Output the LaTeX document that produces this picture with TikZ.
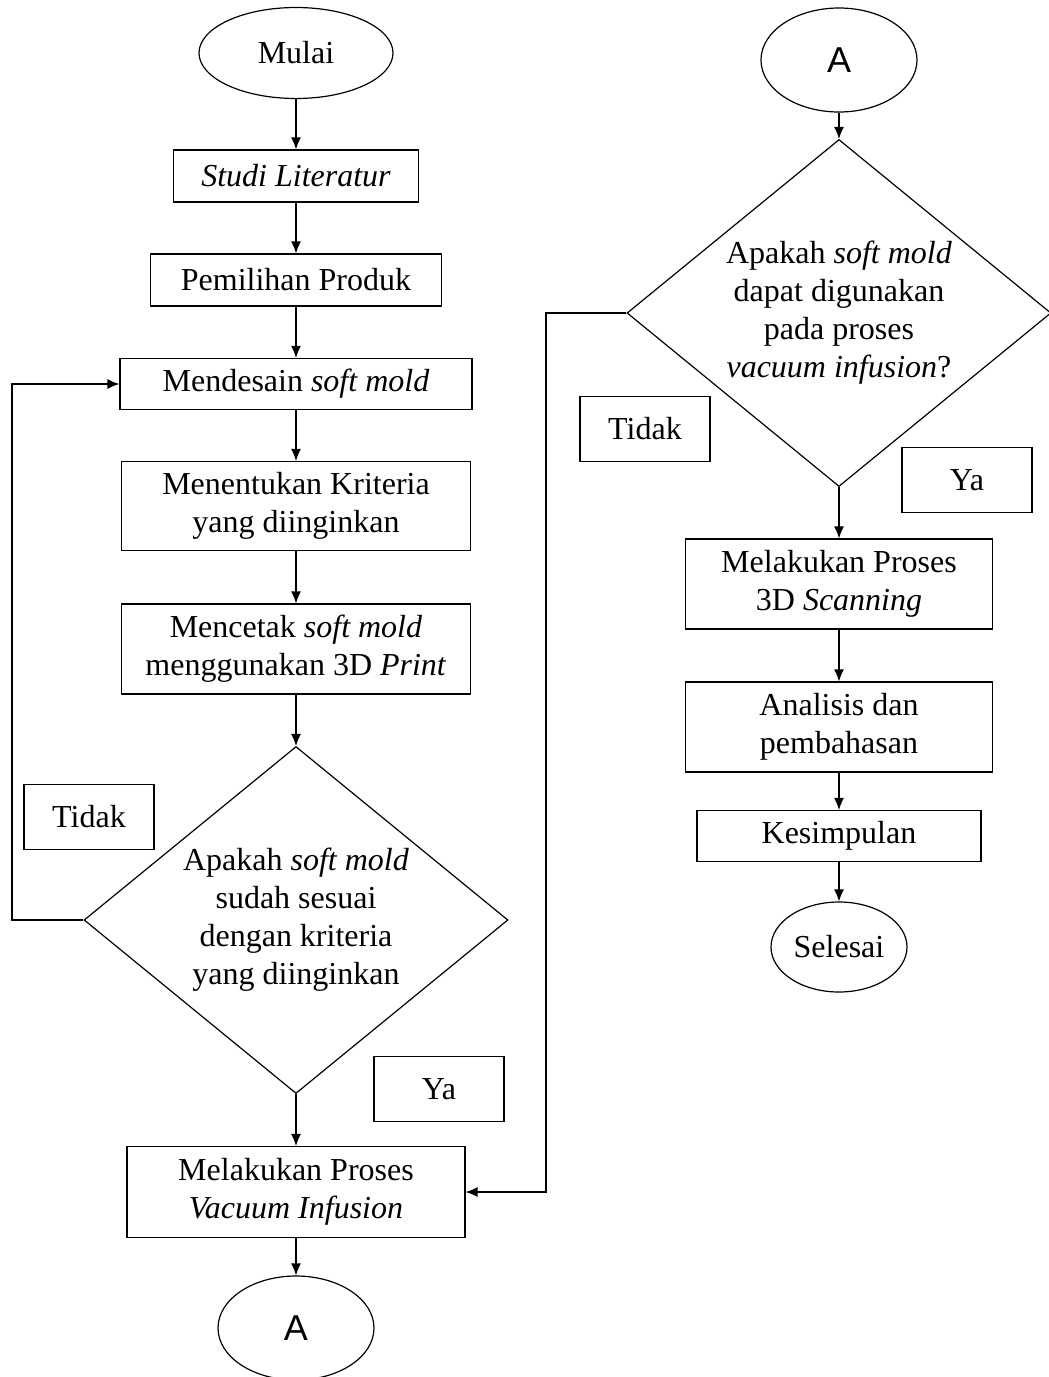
\documentclass[tikz,border=0pt]{standalone}
\usepackage{fontspec}
\setmainfont{Liberation Serif}
\newfontfamily\connfont{Liberation Sans}
\usetikzlibrary{shapes.geometric,arrows.meta}

\begin{document}
\begin{tikzpicture}[x=0.5pt, y=-0.5pt, line width=0.6pt,
    every node/.style={font=\fontsize{16}{19}\selectfont, align=center, inner sep=0pt},
    terminal/.style={ellipse, draw},
    connector/.style={ellipse, draw, minimum width=78pt, minimum height=52pt, font=\connfont\fontsize{18}{20}\selectfont},
    process/.style={rectangle, draw},
    decision/.style={diamond, draw, aspect=1.228, minimum width=212pt, minimum height=173.5pt},
    answer/.style={rectangle, draw, minimum width=65pt, minimum height=32.5pt},
    flow/.style={-{Latex[length=6pt, width=5pt]}}]
      \useasboundingbox (0, 0) rectangle (1049, 1377);
      % Left column:
      \node[terminal, minimum width=97pt, minimum height=45.5pt](mulai) at (296, 53){Mulai};
      \node[process, minimum width=122.5pt, minimum height=26pt](studi) at (296, 176){\textit{Studi Literatur}};
      \node[process, minimum width=145.5pt, minimum height=26pt](pemilihan) at (296, 280){Pemilihan Produk};
      \node[process, minimum width=176pt, minimum height=25.5pt](mendesain) at (296, 384){Mendesain \textit{soft mold}};
      \node[process, minimum width=174.5pt, minimum height=44.5pt](menentukan) at (296, 506){Menentukan Kriteria\\ yang diinginkan};
      \node[process, minimum width=174.5pt, minimum height=45pt](mencetak) at (296, 649){Mencetak \textit{soft mold}\\ menggunakan 3D \textit{Print}};
      \node[decision](cek1) at (296, 920){Apakah \textit{soft mold}\\ sudah sesuai\\ dengan kriteria\\ yang diinginkan};
      \node[answer](tidak1) at (89, 817){Tidak};
      \node[answer](ya1) at (439, 1089){Ya};
      \node[process, minimum width=169pt, minimum height=45.5pt](vacuum) at (296, 1192){Melakukan Proses\\ \textit{Vacuum Infusion}};
      \node[connector](abawah) at (296, 1328){A};
      % Right column:
      \node[connector](aatas) at (839, 60){A};
      \node[decision](cek2) at (839, 313){Apakah \textit{soft mold}\\ dapat digunakan\\ pada proses\\ \textit{vacuum infusion}?};
      \node[answer](tidak2) at (645, 429){Tidak};
      \node[answer](ya2) at (967, 480){Ya};
      \node[process, minimum width=153.5pt, minimum height=45pt](scanning) at (839, 584){Melakukan Proses\\ 3D \textit{Scanning}};
      \node[process, minimum width=153.5pt, minimum height=45pt](analisis) at (839, 727){Analisis dan\\ pembahasan};
      \node[process, minimum width=142pt, minimum height=25.5pt](kesimpulan) at (839, 836){Kesimpulan};
      \node[terminal, minimum width=68pt, minimum height=45pt](selesai) at (839, 947){Selesai};
      % Arrows:
      \draw[flow] (mulai) -- (studi);
      \draw[flow] (studi) -- (pemilihan);
      \draw[flow] (pemilihan) -- (mendesain);
      \draw[flow] (mendesain) -- (menentukan);
      \draw[flow] (menentukan) -- (mencetak);
      \draw[flow] (mencetak) -- (cek1);
      \draw[flow] (cek1) -- (vacuum);
      \draw[flow] (vacuum) -- (abawah);
      \coordinate (kiri1) at (12, 920);
      \draw[flow] (cek1.west) -- (kiri1) |- (mendesain.west);
      \draw[flow] (aatas) -- (cek2);
      \draw[flow] (cek2) -- (scanning);
      \draw[flow] (scanning) -- (analisis);
      \draw[flow] (analisis) -- (kesimpulan);
      \draw[flow] (kesimpulan) -- (selesai);
      \coordinate (kiri2) at (546, 313);
      \draw[flow] (cek2.west) -- (kiri2) |- (vacuum.east);
    \end{tikzpicture}
\end{document}
